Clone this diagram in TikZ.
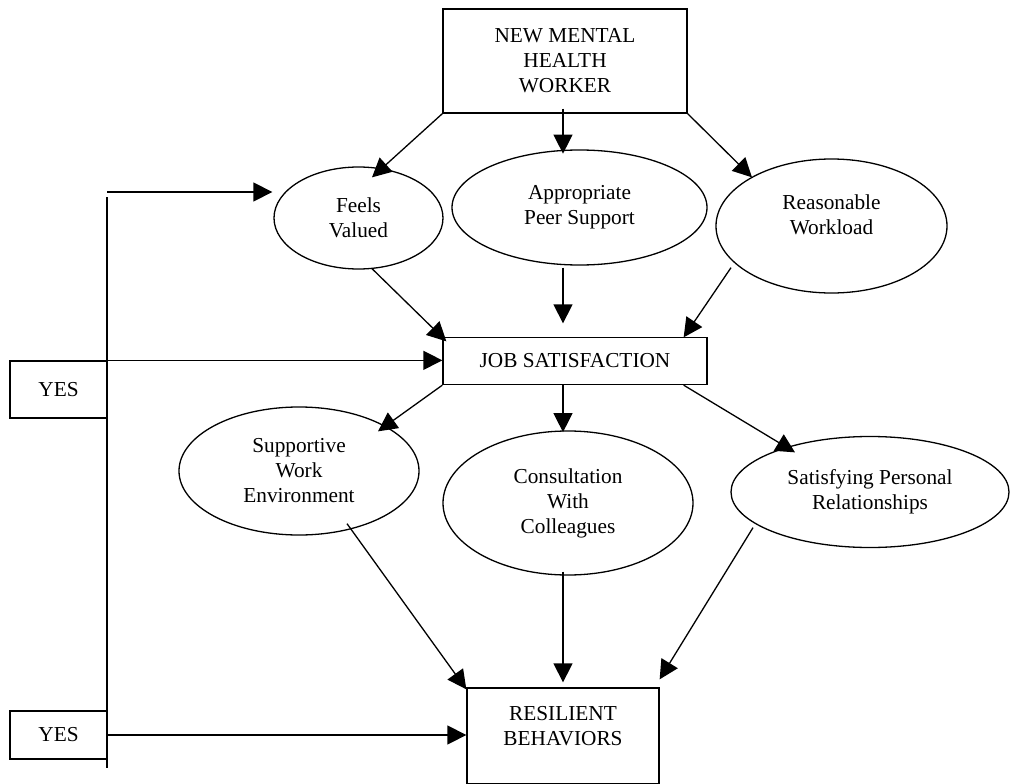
\documentclass[tikz,border=0pt]{standalone}
\usepackage{fontspec}
\setmainfont{Liberation Serif}
\usetikzlibrary{shapes.geometric,arrows.meta,calc}

\tikzset{
  box/.style={draw, line width=1.3pt, rectangle, inner sep=0pt, align=center,
    font=\fontsize{21.3}{25}\selectfont},
  oval/.style={draw, line width=1.3pt, ellipse, inner sep=0pt, align=center,
    font=\fontsize{21.3}{25}\selectfont},
  arr/.style={-{Triangle[length=19pt,width=19pt]}, line width=1.3pt},
  bus/.style={line width=1.3pt}
}

\begin{document}
\begin{tikzpicture}[x=1pt, y=-1pt]
\useasboundingbox (0,0) rectangle (1010,784);

% boxes
\node[box, minimum width=244pt, minimum height=104pt] (hw) at (565,61) {NEW MENTAL\\HEALTH\\WORKER};
\node[box, minimum width=264pt, minimum height=47pt] (js) at (575,361) {JOB SATISFACTION};
\node[box, minimum width=192pt, minimum height=96pt, text depth=20pt] (rb) at (563,736) {RESILIENT\\BEHAVIORS};
\node[box, minimum width=97pt, minimum height=57pt] (yes1) at (58.5,389.5) {YES};
\node[box, minimum width=97pt, minimum height=48pt] (yes2) at (58.5,735) {YES};

% ovals
\node[oval, minimum width=169pt, minimum height=102pt] (fv) at (358.5,218) {Feels\\Valued};
\node[oval, minimum width=255pt, minimum height=115pt] (aps) at (579.5,207.5) {Appropriate\\Peer Support};
\node[oval, minimum width=231pt, minimum height=134pt, text depth=22pt] (rw) at (831.5,226) {Reasonable\\Workload};
\node[oval, minimum width=240pt, minimum height=128pt] (swe) at (299,471) {Supportive\\Work\\Environment};
\node[oval, minimum width=250pt, minimum height=144pt] (cwc) at (568,503) {Consultation\\With\\Colleagues};
\node[oval, minimum width=278pt, minimum height=111pt] (spr) at (870,492) {Satisfying Personal\\Relationships};

% left feedback line
\coordinate (bustop) at (107,197);
\coordinate (busbot) at (107,768);
\coordinate (fvin) at (107,192);
\draw[bus] (bustop) -- (busbot);
\draw[arr] (fvin) -- ($(fv.west)+(-1,-26)$);
\draw[arr] (yes1.north east) -- (yes1.north east -| js.west);
\draw[arr] (yes2.east) -- (yes2.east -| rb.west);

% worker to first row
\draw[arr] (hw.south west) -- ($(fv.north)+(13.5,11)$);
\draw[arr] ($(hw.south)+(-2,-5)$) -- ($(hw.south)+(-2,40)$);
\draw[arr] (hw.south east) -- ($(rw.north)+(-79.5,19)$);

% first row to job satisfaction
\draw[arr] ($(fv.south)+(13.5,-1)$) -- ($(js.north west)+(4,4.5)$);
\draw[arr] ($(aps.south)+(-16.5,2)$) -- ($(js.north)+(-12,-13.5)$);
\draw[arr] ($(rw.south)+(-100.5,-26)$) -- ($(js.north east)+(-24,0.5)$);

% job satisfaction to second row
\draw[arr] (js.south west) -- ($(swe.north)+(79,25)$);
\draw[arr] ($(js.south)+(-12,0)$) -- ($(js.south)+(-12,47)$);
\draw[arr] ($(js.south east)+(-24,0)$) -- ($(spr.north)+(-75,16.5)$);

% second row to resilient behaviors
\draw[arr] ($(swe.south)+(48,-12)$) -- ($(rb.north west)+(0,2)$);
\draw[arr] ($(cwc.south)+(-5,-4)$) -- ($(rb.north)+(0,-5)$);
\draw[arr] ($(spr.south)+(-117,-20.5)$) -- ($(rb.north east)+(0,-8)$);
\end{tikzpicture}
\end{document}
